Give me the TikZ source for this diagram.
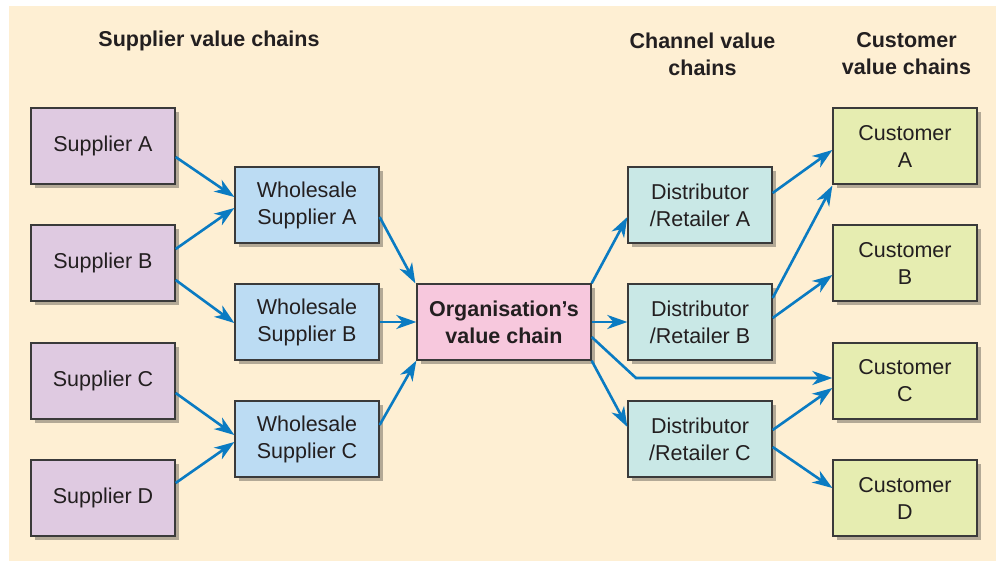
\documentclass[tikz,border=0pt]{standalone}
\usepackage{fontspec}
\setmainfont{Liberation Sans}
\usetikzlibrary{arrows.meta,shadows,calc}
\definecolor{bgc}{HTML}{FEEFD3}
\definecolor{supc}{HTML}{DFCAE1}
\definecolor{whoc}{HTML}{BCDCF3}
\definecolor{orgc}{HTML}{F7C8DD}
\definecolor{disc}{HTML}{C9E8E6}
\definecolor{cusc}{HTML}{E6EDB1}
\definecolor{arrc}{HTML}{0A7BC2}
\definecolor{shc}{HTML}{B3A996}
\definecolor{bordc}{HTML}{3A3A3A}
\definecolor{txtc}{HTML}{231F20}
\tikzset{
  box/.style={draw=bordc, line width=1.3pt, minimum width=144pt, minimum height=76pt,
    inner sep=0pt, align=center, text=txtc,
    font=\fontsize{21.5}{27}\selectfont,
    drop shadow={shadow xshift=4pt, shadow yshift=-4pt, fill=shc, opacity=1}},
  supbox/.style={box, fill=supc},
  whobox/.style={box, fill=whoc},
  orgbox/.style={box, fill=orgc, minimum width=174pt, font=\fontsize{21.5}{27}\selectfont\bfseries},
  disbox/.style={box, fill=disc},
  cusbox/.style={box, fill=cusc},
  title/.style={align=center, text=txtc, font=\fontsize{21.5}{27}\selectfont\bfseries},
  arr/.style={draw=arrc, line width=2.6pt, -{Stealth[length=20pt, width=14pt, inset=6pt]}}
}
\begin{document}
\begin{tikzpicture}[x=1pt, y=-1pt]
\useasboundingbox (0,0) rectangle (996,561);
\fill[bgc] (9,6) rectangle (996,561);

\node[title] (t1) at (209,41) {Supplier value chains};
\node[title] (t2) at (702.5,54) {Channel value\\chains};
\node[title] (t3) at (906.5,54) {Customer\\value chains};

\node[supbox] (sa) at (103,146) {Supplier A};
\node[supbox] (sb) at (103,263) {Supplier B};
\node[supbox] (sc) at (103,381) {Supplier C};
\node[supbox] (sd) at (103,498) {Supplier D};

\node[whobox] (wa) at (307,205) {Wholesale\\Supplier A};
\node[whobox] (wb) at (307,322) {Wholesale\\Supplier B};
\node[whobox] (wc) at (307,439) {Wholesale\\Supplier C};

\node[orgbox] (org) at (504,322) {Organisation’s\\value chain};

\node[disbox] (da) at (700,205) {Distributor\\/Retailer A};
\node[disbox] (db) at (700,322) {Distributor\\/Retailer B};
\node[disbox] (dc) at (700,439) {Distributor\\/Retailer C};

\node[cusbox] (ca) at (905,146) {Customer\\A};
\node[cusbox] (cb) at (905,263) {Customer\\B};
\node[cusbox] (cc) at (905,381) {Customer\\C};
\node[cusbox] (cd) at (905,498) {Customer\\D};

\coordinate (bend) at (636,378);

\draw[arr] ([yshift=-11pt]sa.east) -- ([yshift=8pt]wa.west);
\draw[arr] ([yshift=14pt]sb.east) -- ([yshift=-3pt]wa.west);
\draw[arr] ([yshift=-17pt]sb.east) -- ([yshift=-1pt]wb.west);
\draw[arr] ([yshift=-12pt]sc.east) -- ([yshift=4pt]wc.west);
\draw[arr] ([yshift=15pt]sd.east) -- ([yshift=-3pt]wc.west);

\draw[arr] ([yshift=-12pt]wa.east) -- ([xshift=-1pt]org.north west);
\draw[arr] (wb.east) -- (org.west);
\draw[arr] ([yshift=14pt]wc.east) -- (org.south west);

\draw[arr] (org.north east) -- ([yshift=-12pt]da.west);
\draw[arr] (org.east) -- (db.west);
\draw[arr] ([yshift=-15pt]org.east) -- (bend) -- ([yshift=3pt]cc.west);
\draw[arr] (org.south east) -- ([yshift=12pt]dc.west);

\draw[arr] ([yshift=12pt]da.east) -- ([yshift=-4pt]ca.west);
\draw[arr] ([yshift=24pt]db.east) -- ([yshift=-1pt]ca.south west);
\draw[arr] ([yshift=4pt]db.east) -- ([yshift=-12pt]cb.west);
\draw[arr] ([yshift=9pt]dc.east) -- ([yshift=-7pt]cc.west);
\draw[arr] ([yshift=-8pt]dc.east) -- ([yshift=10pt]cd.west);
\end{tikzpicture}
\end{document}
